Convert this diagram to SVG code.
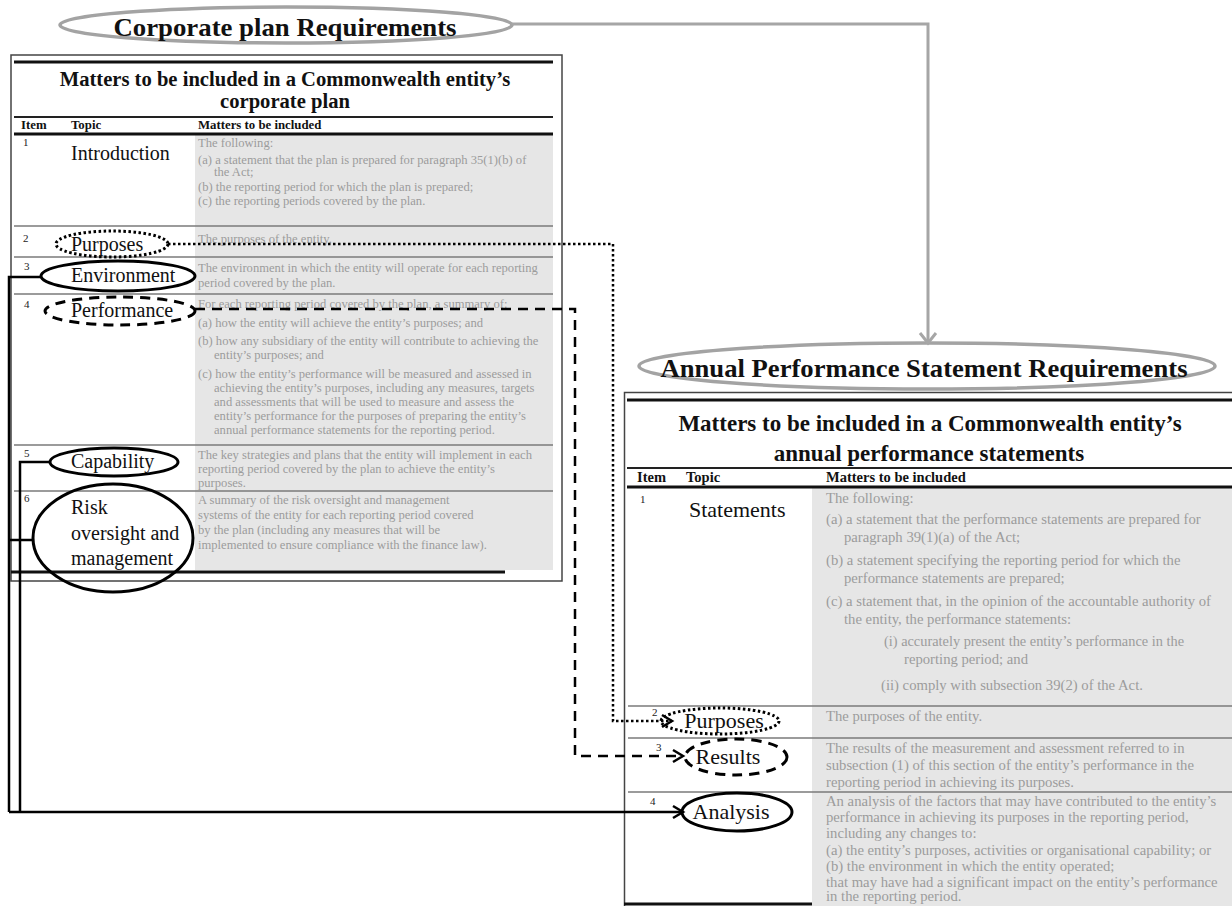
<svg xmlns="http://www.w3.org/2000/svg" width="1232" height="906" viewBox="0 0 1232 906">
  <style>
    .sect { font-family: "Liberation Serif", "Times New Roman", serif; font-weight: bold; fill: #111; text-anchor: middle; }
    .ttl { font-family: "Liberation Serif", "Times New Roman", serif; font-weight: bold; fill: #111; text-anchor: middle; }
    .hdr { font-family: "Liberation Serif", "Times New Roman", serif; font-weight: bold; fill: #111; }
    .num { font-family: "Liberation Serif", "Times New Roman", serif; font-size: 11px; fill: #222; }
    .topic { font-family: "Liberation Serif", "Times New Roman", serif; font-size: 20px; fill: #111; }
    .topicR { font-family: "Liberation Serif", "Times New Roman", serif; font-size: 22px; fill: #111; }
    .body { font-family: "Liberation Serif", "Times New Roman", serif; font-size: 12.6px; fill: #9c9c9c; }
    .bodyR { font-family: "Liberation Serif", "Times New Roman", serif; font-size: 14.7px; fill: #9c9c9c; }
    .box { fill: #fff; stroke: #444; stroke-width: 1.5; }
    .shade { fill: #e6e6e6; }
    .heavy { stroke: #111; stroke-width: 3; }
    .rule { stroke: #222; stroke-width: 1.8; }
    .sep { stroke: #7a7a7a; stroke-width: 1.5; }
    .ring { fill: none; stroke: #000; stroke-width: 3; }
    .dot { stroke-dasharray: 2.5 2.5; }
    .dash { stroke-dasharray: 10 7; }
    .banner { fill: #fff; stroke: #a3a3a3; stroke-width: 3.5; }
    .link { fill: none; stroke: #000; stroke-width: 2.5; }
    .flow { fill: none; stroke: #a6a6a6; stroke-width: 3; }
  </style>
  <defs>
    <marker id="chev" markerUnits="userSpaceOnUse" markerWidth="16" markerHeight="16" refX="13" refY="8" orient="auto">
      <path d="M3,2 L13,8 L3,14" fill="none" stroke="#000" stroke-width="2.5" stroke-dasharray="none"/>
    </marker>
    <marker id="chevGrey" markerUnits="userSpaceOnUse" markerWidth="20" markerHeight="20" refX="16" refY="10" orient="auto">
      <path d="M6,2 L16,10 L6,18" fill="none" stroke="#a6a6a6" stroke-width="3"/>
    </marker>
  </defs>

  <!-- corporate plan table -->
  <g id="table-corporate">
    <rect class="box" x="11" y="55" width="551" height="526"/>
    <rect class="shade" x="195" y="135" width="358" height="435"/>
    <line class="heavy" x1="14" y1="62" x2="553" y2="62"/>
    <text class="ttl" x="285" y="86" font-size="20.6">Matters to be included in a Commonwealth entity’s</text>
    <text class="ttl" x="285" y="108" font-size="20.6">corporate plan</text>
    <line class="rule" x1="14" y1="117" x2="553" y2="117"/>
    <g class="hdr" font-size="12.8">
      <text x="21" y="129">Item</text>
      <text x="71" y="129">Topic</text>
      <text x="198" y="129">Matters to be included</text>
    </g>
    <line class="heavy" x1="14" y1="134" x2="553" y2="134" stroke-width="2.5"/>
    <line class="sep" x1="14" y1="226" x2="553" y2="226"/>
    <line class="sep" x1="14" y1="257" x2="553" y2="257"/>
    <line class="sep" x1="14" y1="294" x2="553" y2="294"/>
    <line class="sep" x1="14" y1="445" x2="553" y2="445"/>
    <line class="sep" x1="14" y1="491" x2="553" y2="491"/>
    <line class="heavy" x1="11" y1="572" x2="505" y2="572"/>

    <g class="num">
      <text x="23" y="146">1</text>
      <text x="23" y="242">2</text>
      <text x="24" y="270">3</text>
      <text x="24" y="308">4</text>
      <text x="24" y="457">5</text>
      <text x="24" y="502">6</text>
    </g>
    <text class="topic" x="71" y="160">Introduction</text>

    <g class="body">
      <text x="198" y="147">The following:</text>
      <text x="198" y="164">(a) a statement that the plan is prepared for paragraph 35(1)(b) of</text>
      <text x="214" y="176">the Act;</text>
      <text x="198" y="191">(b) the reporting period for which the plan is prepared;</text>
      <text x="198" y="205">(c) the reporting periods covered by the plan.</text>
      <text x="198" y="243">The purposes of the entity.</text>
      <text x="198" y="272">The environment in which the entity will operate for each reporting</text>
      <text x="198" y="287">period covered by the plan.</text>
      <text x="198" y="308">For each reporting period covered by the plan, a summary of:</text>
      <text x="198" y="327">(a) how the entity will achieve the entity’s purposes; and</text>
      <text x="198" y="345">(b) how any subsidiary of the entity will contribute to achieving the</text>
      <text x="214" y="359">entity’s purposes; and</text>
      <text x="198" y="378">(c) how the entity’s performance will be measured and assessed in</text>
      <text x="214" y="392">achieving the entity’s purposes, including any measures, targets</text>
      <text x="214" y="406">and assessments that will be used to measure and assess the</text>
      <text x="214" y="420">entity’s performance for the purposes of preparing the entity’s</text>
      <text x="214" y="434">annual performance statements for the reporting period.</text>
      <text x="198" y="459">The key strategies and plans that the entity will implement in each</text>
      <text x="198" y="473">reporting period covered by the plan to achieve the entity’s</text>
      <text x="198" y="487">purposes.</text>
      <text x="198" y="504">A summary of the risk oversight and management</text>
      <text x="198" y="519">systems of the entity for each reporting period covered</text>
      <text x="198" y="534">by the plan (including any measures that will be</text>
      <text x="198" y="549">implemented to ensure compliance with the finance law).</text>
    </g>
  </g>

  <!-- annual performance statements table -->
  <g id="table-annual">
    <rect class="box" x="624.5" y="392.5" width="620" height="520" stroke="#777" stroke-width="1"/>
    <rect class="shade" x="812" y="488" width="420" height="418"/>
    <line class="heavy" x1="627" y1="400" x2="1232" y2="400"/>
    <text class="ttl" x="930" y="431" font-size="23">Matters to be included in a Commonwealth entity’s</text>
    <text class="ttl" x="929" y="461" font-size="23">annual performance statements</text>
    <line class="rule" x1="627" y1="468" x2="1232" y2="468"/>
    <g class="hdr" font-size="14.5">
      <text x="637" y="482">Item</text>
      <text x="686" y="482">Topic</text>
      <text x="826" y="482">Matters to be included</text>
    </g>
    <line class="heavy" x1="627" y1="487" x2="1232" y2="487" stroke-width="2.5"/>
    <line class="sep" x1="628" y1="706" x2="1232" y2="706"/>
    <line class="sep" x1="628" y1="738" x2="1232" y2="738"/>
    <line class="sep" x1="628" y1="792" x2="1232" y2="792"/>
    <line class="heavy" x1="624" y1="904" x2="812" y2="904"/>

    <g class="num">
      <text x="640" y="503">1</text>
      <text x="652" y="716">2</text>
      <text x="656" y="751">3</text>
      <text x="650" y="805">4</text>
    </g>
    <text class="topicR" x="689" y="517">Statements</text>

    <g class="bodyR">
      <text x="826" y="503">The following:</text>
      <text x="826" y="524">(a) a statement that the performance statements are prepared for</text>
      <text x="844" y="542">paragraph 39(1)(a) of the Act;</text>
      <text x="826" y="565">(b) a statement specifying the reporting period for which the</text>
      <text x="844" y="583">performance statements are prepared;</text>
      <text x="826" y="606">(c) a statement that, in the opinion of the accountable authority of</text>
      <text x="844" y="624">the entity, the performance statements:</text>
      <text x="884" y="646" textLength="300" lengthAdjust="spacingAndGlyphs">(i)  accurately present the entity’s performance in the</text>
      <text x="904" y="664">reporting period; and</text>
      <text x="881" y="690">(ii) comply with subsection 39(2) of the Act.</text>
      <text x="826" y="721">The purposes of the entity.</text>
      <text x="826" y="753">The results of the measurement and assessment referred to in</text>
      <text x="826" y="770">subsection (1) of this section of the entity’s performance in the</text>
      <text x="826" y="787">reporting period in achieving its purposes.</text>
      <text x="826" y="806">An analysis of the factors that may have contributed to the entity’s</text>
      <text x="826" y="822">performance in achieving its purposes in the reporting period,</text>
      <text x="826" y="838">including any changes to:</text>
      <text x="826" y="855">(a) the entity’s purposes, activities or organisational capability; or</text>
      <text x="826" y="871">(b) the environment in which the entity operated;</text>
      <text x="826" y="887">that may have had a significant impact on the entity’s performance</text>
      <text x="826" y="901">in the reporting period.</text>
    </g>
  </g>

  <!-- section banners -->
  <g id="banner-corporate">
    <ellipse class="banner" cx="286" cy="25" rx="226" ry="18"/>
    <text class="sect" x="285" y="36" font-size="25" textLength="343" lengthAdjust="spacingAndGlyphs">Corporate plan Requirements</text>
  </g>
  <g id="banner-annual">
    <ellipse class="banner" cx="927" cy="366" rx="288" ry="23"/>
    <text class="sect" x="924" y="377" font-size="25" textLength="527" lengthAdjust="spacingAndGlyphs">Annual Performance Statement Requirements</text>
  </g>

  <!-- circled topics, corporate plan -->
  <g id="cp-purposes">
    <ellipse class="ring dot" cx="112" cy="244" rx="56" ry="13"/>
    <text class="topic" x="71" y="251">Purposes</text>
  </g>
  <g id="cp-environment">
    <ellipse class="ring" cx="118" cy="276" rx="77" ry="15"/>
    <text class="topic" x="71" y="282">Environment</text>
  </g>
  <g id="cp-performance">
    <ellipse class="ring dash" cx="120" cy="311" rx="75" ry="14"/>
    <text class="topic" x="71" y="317">Performance</text>
  </g>
  <g id="cp-capability">
    <ellipse class="ring" cx="114" cy="462" rx="64" ry="14"/>
    <text class="topic" x="71" y="468">Capability</text>
  </g>
  <g id="cp-risk">
    <ellipse class="ring" cx="113" cy="538" rx="80" ry="54"/>
    <text class="topic" x="71" y="514">Risk</text>
    <text class="topic" x="71" y="540">oversight and</text>
    <text class="topic" x="71" y="565">management</text>
  </g>

  <!-- circled topics, annual performance statements -->
  <g id="aps-purposes">
    <ellipse class="ring dot" cx="720" cy="721" rx="59" ry="13"/>
    <text class="topicR" x="724" y="728" text-anchor="middle">Purposes</text>
  </g>
  <g id="aps-results">
    <ellipse class="ring dash" cx="736" cy="757" rx="51" ry="18"/>
    <text class="topicR" x="728" y="764" text-anchor="middle">Results</text>
  </g>
  <g id="aps-analysis">
    <ellipse class="ring" cx="737" cy="812" rx="55" ry="19"/>
    <text class="topicR" x="731" y="819" text-anchor="middle">Analysis</text>
  </g>

  <!-- connectors -->
  <g id="connectors">
    <path class="flow" d="M512,24 H928 V343" marker-end="url(#chevGrey)"/>
    <path class="link dot" stroke-width="3" d="M168,244 H613 V721 H672" marker-end="url(#chev)"/>
    <path class="link dash" stroke-width="3" d="M195,309 H575 V756 H683" marker-end="url(#chev)"/>
    <path class="link" d="M41,277 H9 V812"/>
    <path class="link" d="M50,462 H20 V812"/>
    <path class="link" d="M34,540 H9"/>
    <path class="link" d="M9,812 H683" marker-end="url(#chev)"/>
  </g>
</svg>
